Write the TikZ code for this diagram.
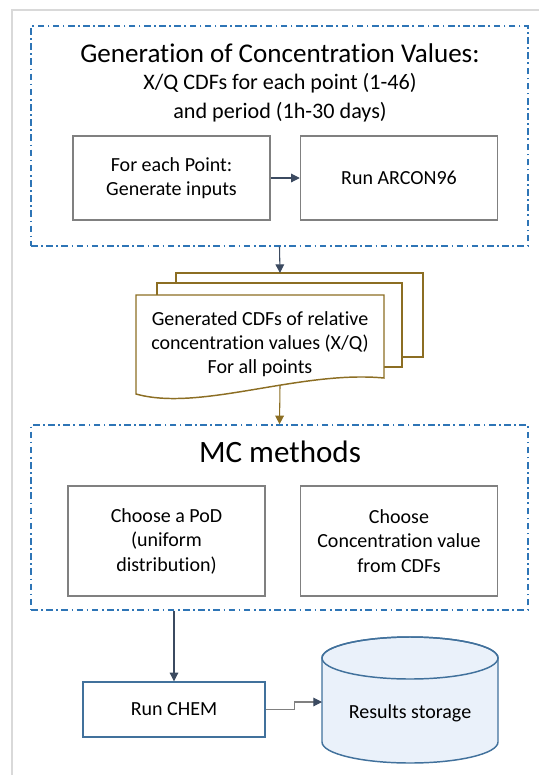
\documentclass[tikz,border=0pt]{standalone}
\usepackage{fontspec}
\setmainfont{Carlito}[Ligatures=NoCommon]
\usetikzlibrary{arrows.meta}
\definecolor{pagegray}{RGB}{217,217,217}
\definecolor{boxgray}{RGB}{128,128,128}
\definecolor{dashblue}{RGB}{46,117,182}
\definecolor{olive}{RGB}{140,110,35}
\definecolor{slate}{RGB}{59,74,96}
\definecolor{chemblue}{RGB}{65,113,156}
\definecolor{storefill}{RGB}{234,241,250}
\begin{document}
\begin{tikzpicture}[x=0.75pt,y=-0.75pt,
    frame/.style = {draw=dashblue,line width=1.1pt,
        dash pattern=on 5pt off 2.6pt on 1.2pt off 2.6pt,
        minimum width=372.75pt,inner sep=0pt},
    procbox/.style = {draw=boxgray,line width=1.1pt,align=center,
        minimum width=147.75pt,inner sep=0pt,
        font=\fontsize{15}{18.4}\selectfont},
    sheet/.style = {draw=olive,line width=1.1pt,fill=white},
    arrow/.style = {draw=slate,line width=0.8pt,-{Triangle[length=6.5pt,width=6.5pt]}}]
    \useasboundingbox (0,0) rectangle (539,775);
    \draw[pagegray,line width=1.5pt] (11.7,775) -- (11.7,10) -- (539,10);

    % generation of X/Q values
    \node[frame,minimum height=165pt] (gen) at (279.5,136) {};
    \node[font=\fontsize{20.3}{24}\selectfont,inner sep=0pt] (gentitle) at (280,53)
        {Generation of Concentration Values:};
    \node[font=\fontsize{16.6}{21.75}\selectfont,align=center,inner sep=0pt] (gensub) at (280,97.5)
        {X/Q CDFs for each point (1-46)\\and period (1h-30 days)};
    \node[procbox,minimum height=63pt] (inputs) at (171.5,178)
        {For each Point:\\Generate inputs};
    \node[procbox,minimum height=63pt] (arcon) at (399,178) {Run ARCON96};
    \draw[arrow] (inputs) -- (arcon);

    % stack of CDFs
    \draw[sheet] (176,273) rectangle (423,357);
    \draw[sheet] (157,283) rectangle (402,367);
    \draw[sheet] (136,295) -- (384,295) -- (384,378)
        .. controls (300,370) and (200,412) .. (136,394) -- cycle;
    \coordinate (docstop) at (280,273);
    \coordinate (docsbot) at (280,386);
    \node[align=center,inner sep=0pt,font=\fontsize{15}{18}\selectfont] (docs) at (260,344)
        {Generated CDFs of relative\\concentration values (X/Q)\\For all points};
    \draw[arrow] (gen.south) -- (docstop);

    % MC sampling
    \node[frame,minimum height=138.75pt] (mc) at (279.5,517.5) {};
    \node[font=\fontsize{23.3}{27}\selectfont,inner sep=0pt] (mctitle) at (280,452) {MC methods};
    \node[procbox,minimum height=82.5pt] (pod) at (166.5,541)
        {Choose a PoD\\(uniform\\distribution)};
    \node[procbox,minimum height=82.5pt] (conc) at (399,541)
        {Choose\\Concentration value\\from CDFs};
    \draw[arrow,draw=olive] (docsbot) -- (mc.north);

    % run and store
    \node[procbox,draw=chemblue,minimum width=136.5pt,minimum height=41.25pt] (chem) at (174,709.5)
        {Run CHEM};
    \draw[arrow] (chem.north |- mc.south) -- (chem.north);
    \draw[draw=chemblue,line width=1.1pt,fill=storefill] (322,658) -- (322,742)
        arc[start angle=180,end angle=360,x radius=66pt,y radius=15.75pt]
        -- (498,658) arc[start angle=0,end angle=180,x radius=66pt,y radius=15.75pt] -- cycle;
    \draw[draw=chemblue,line width=1.1pt] (410,658) ellipse [x radius=66pt,y radius=15.75pt];
    \node[font=\fontsize{15}{18}\selectfont,inner sep=0pt] (store) at (410,713) {Results storage};
    \coordinate (storein) at (322,702);
    \draw[arrow,draw=boxgray,-{Triangle[length=6.5pt,width=6.5pt,color=slate]}]
        (chem.east) -- ++(29,0) |- (storein);
\end{tikzpicture}
\end{document}
